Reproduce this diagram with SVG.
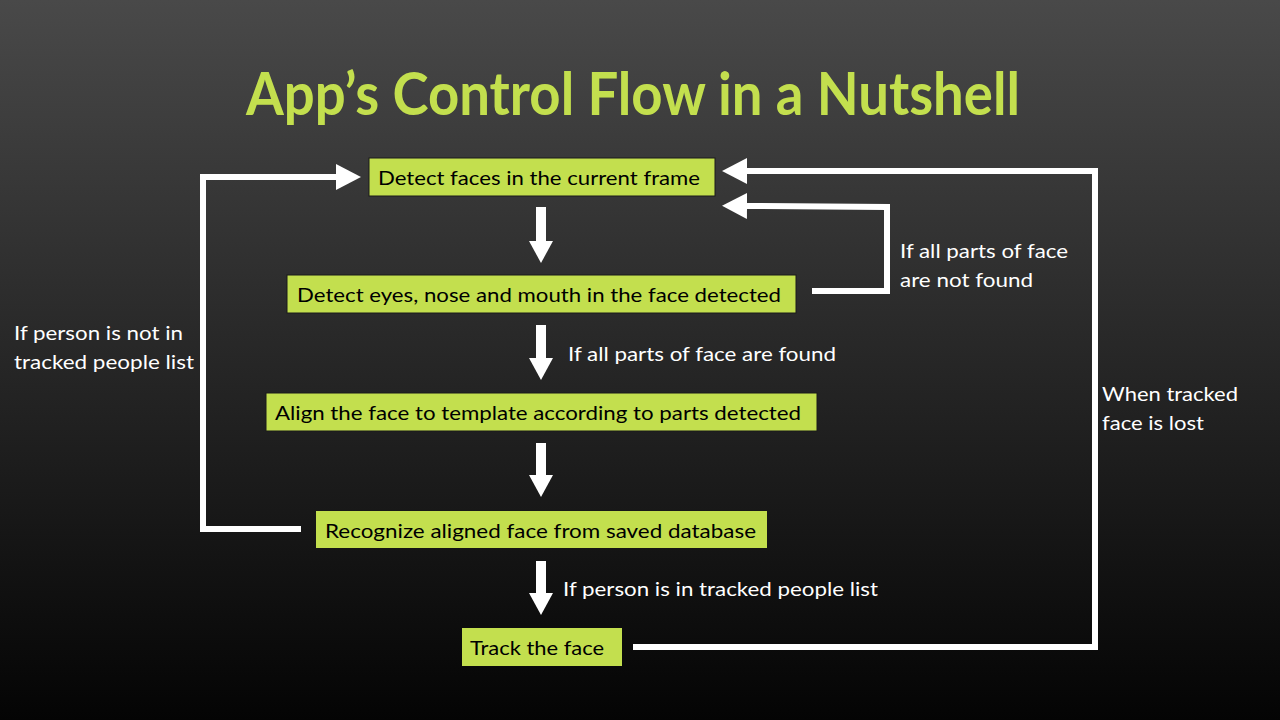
<svg xmlns="http://www.w3.org/2000/svg" width="1280" height="720" viewBox="0 0 1280 720">
<defs>
<linearGradient id="bg" x1="0" y1="0" x2="0" y2="1">
<stop offset="0" stop-color="#494949"/>
<stop offset="1" stop-color="#040404"/>
</linearGradient>
<marker id="head" markerUnits="userSpaceOnUse" markerWidth="25" markerHeight="26" refX="0" refY="13" orient="auto">
<path d="M0,0 L25,13 L0,26 z" fill="#ffffff"/>
</marker>
<marker id="dhead" markerUnits="userSpaceOnUse" markerWidth="22" markerHeight="24" refX="0" refY="12" orient="auto">
<path d="M0,0 L22,12 L0,24 z" fill="#ffffff"/>
</marker>
<style>
.box{fill:#c3df4e}
.bd{stroke:#1a1a1a;stroke-width:1}
.bt{font-family:Lato,"Open Sans",sans-serif;font-size:20px;fill:#000000}
.lb{font-family:Lato,"Open Sans",sans-serif;font-size:20px;fill:#ffffff}
.ln{fill:none;stroke:#ffffff;stroke-width:6;marker-end:url(#head)}
.ln2{fill:none;stroke:#ffffff;stroke-width:6}
.dn{fill:none;stroke:#ffffff;stroke-width:10;marker-end:url(#dhead)}
</style>
</defs>
<rect x="0" y="0" width="1280" height="720" fill="url(#bg)"/>
<text x="246" y="115" font-family="Lato,'Open Sans',sans-serif" font-weight="bold" font-size="60" fill="#c3df4e" textLength="774" lengthAdjust="spacingAndGlyphs">App’s Control Flow in a Nutshell</text>

<g id="connectors">
<line class="dn" x1="541" y1="207" x2="541" y2="241"/>
<line class="dn" x1="541" y1="325" x2="541" y2="358"/>
<line class="dn" x1="541" y1="443" x2="541" y2="475"/>
<line class="dn" x1="541" y1="561" x2="541" y2="593"/>
<path class="ln" d="M301,529 L203,529 L203,177 L336,177"/>
<path class="ln" d="M812,291 L887,291 L887,207 L747,206"/>
<path class="ln" d="M633,647 L1095,647 L1095,171 L747,171"/>
</g>

<g id="n1"><rect class="box bd" x="369" y="158" width="346" height="38"/><text class="bt" x="378" y="185" textLength="322" lengthAdjust="spacingAndGlyphs">Detect faces in the current frame</text></g>
<g id="n2"><rect class="box bd" x="287" y="275" width="509" height="38"/><text class="bt" x="297" y="302" textLength="484" lengthAdjust="spacingAndGlyphs">Detect eyes, nose and mouth in the face detected</text></g>
<g id="n3"><rect class="box bd" x="266" y="393" width="551" height="38"/><text class="bt" x="275" y="420" textLength="526" lengthAdjust="spacingAndGlyphs">Align the face to template according to parts detected</text></g>
<g id="n4"><rect class="box" x="316" y="511" width="451" height="37"/><text class="bt" x="325" y="538" textLength="431" lengthAdjust="spacingAndGlyphs">Recognize aligned face from saved database</text></g>
<g id="n5"><rect class="box" x="462" y="628" width="160" height="38"/><text class="bt" x="470" y="655" textLength="134" lengthAdjust="spacingAndGlyphs">Track the face</text></g>

<g id="labels">
<text class="lb" x="900" y="258" textLength="168" lengthAdjust="spacingAndGlyphs">If all parts of face</text>
<text class="lb" x="900" y="287" textLength="133" lengthAdjust="spacingAndGlyphs">are not found</text>
<text class="lb" x="568" y="361" textLength="268" lengthAdjust="spacingAndGlyphs">If all parts of face are found</text>
<text class="lb" x="14" y="340" textLength="169" lengthAdjust="spacingAndGlyphs">If person is not in</text>
<text class="lb" x="14" y="369" textLength="180" lengthAdjust="spacingAndGlyphs">tracked people list</text>
<text class="lb" x="1102" y="401" textLength="136" lengthAdjust="spacingAndGlyphs">When tracked</text>
<text class="lb" x="1102" y="430" textLength="102" lengthAdjust="spacingAndGlyphs">face is lost</text>
<text class="lb" x="563" y="596" textLength="315" lengthAdjust="spacingAndGlyphs">If person is in tracked people list</text>
</g>
</svg>
